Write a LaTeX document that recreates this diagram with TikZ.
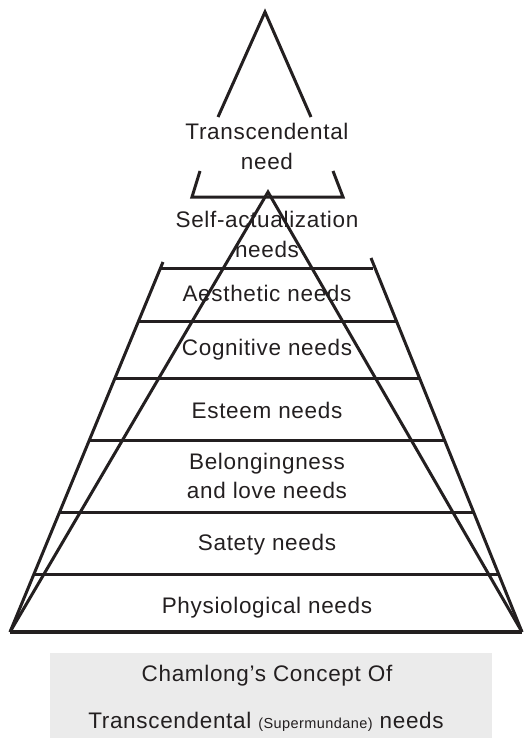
\documentclass[tikz,border=0pt]{standalone}
\usepackage{fontspec}
\setmainfont{Liberation Sans}[LetterSpace=3]
\definecolor{ink}{HTML}{231F20}
\definecolor{panel}{HTML}{EBEBEB}
\begin{document}
\begin{tikzpicture}[x=1pt,y=-1pt,
  edge/.style={line width=3pt, draw=ink, line join=miter, line cap=butt},
  tier/.style={anchor=base, inner sep=0pt, text=ink,
    font=\fontsize{22.5}{26}\selectfont}]
\useasboundingbox (0,0) rectangle (524,738);

% outer frame points
\coordinate (apex) at (265,12);
\coordinate (apexB) at (268,192);
\coordinate (BL) at (10,632);
\coordinate (BR) at (522,632);
\coordinate (TL) at (163,262);
\coordinate (TR) at (371,258);

% top (transcendental) triangle, broken around its label
\draw[edge] (218,117) -- (apex) -- (311,117);
\draw[edge] (200,171) -- (192,197) -- (343,197) -- (333,171);

% inner triangle and outer trapezoid
\draw[edge] (BL) -- (apexB) -- (BR);
\draw[edge] (TL) -- (BL);
\draw[edge] (TR) -- (BR);

% level separators
\draw[edge] (160.5,268) -- (373.4,268);
\draw[edge] (138.6,321) -- (396.4,321);
\draw[edge] (115,378) -- (419.5,378);
\draw[edge] (89.4,440) -- (444.5,440);
\draw[edge] (59.6,512) -- (473.6,512);
\draw[edge] (34,574) -- (498.6,574);
\draw[edge, line width=4.5pt] (BL) -- (BR);

% level labels
\node[tier] (l1a) at (267,140) {Transcendental};
\node[tier] (l1b) at (267,170) {need};
\node[tier] (l2a) at (267,227) {Self-actualization};
\node[tier] (l2b) at (267,257) {needs};
\node[tier] (l3) at (267,301) {Aesthetic needs};
\node[tier] (l4) at (267,355) {Cognitive needs};
\node[tier] (l5) at (267,418) {Esteem needs};
\node[tier] (l6a) at (267,469) {Belongingness};
\node[tier] (l6b) at (267,498) {and love needs};
\node[tier] (l7) at (267,550) {Satety needs};
\node[tier] (l8) at (267,613) {Physiological needs};

% caption panel
\fill[panel] (50,653) rectangle (492,738);
\node[tier] (cap1) at (267,681) {Chamlong’s Concept Of};
\node[tier] (cap2) at (266,728) {Transcendental {\fontsize{14.5}{16}\selectfont(Supermundane)} needs};
\end{tikzpicture}
\end{document}
